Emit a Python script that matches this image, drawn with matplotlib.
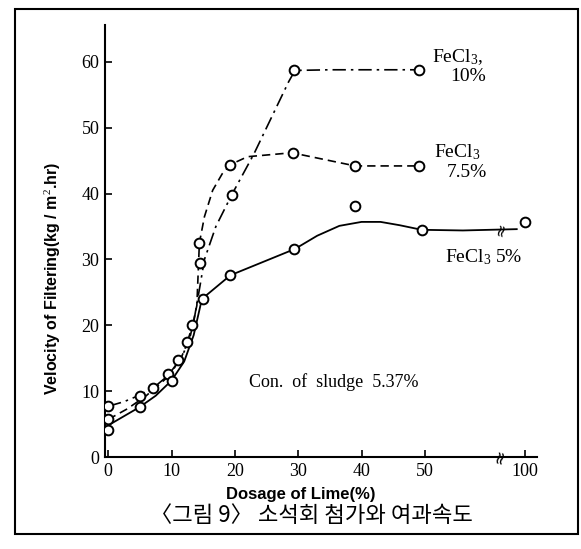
import matplotlib
matplotlib.use('Agg')
import matplotlib.pyplot as plt
from matplotlib.patches import Rectangle

serif = 'Liberation Serif'
sans = ['Liberation Sans', 'DejaVu Sans']
plt.rcParams['mathtext.fontset'] = 'custom'
plt.rcParams['mathtext.rm'] = serif
plt.rcParams['mathtext.it'] = serif + ':italic'

# x positions for the "100" dose are drawn on a broken axis
x_ticks = [0, 10, 20, 30, 40, 50, 65.8]
x_labels = ['0', '10', '20', '30', '40', '50', '100']
y_ticks = [0, 10, 20, 30, 40, 50, 60]
break_at = 62

# FeCl3 10 % (dash-dot)
fe10_curve_x = [0, 2.5, 5, 7.5, 10, 12, 13.5, 14.5, 15.2, 17, 19.5, 23, 26, 28.5, 29.5, 35, 49]
fe10_curve_y = [7.7, 8.4, 9.4, 10.8, 12.8, 16, 20.5, 26, 30, 35, 39.8, 46, 52, 57, 58.7, 58.8, 58.8]
fe10_pts_x = [0, 5, 9.5, 12.5, 14.5, 19.5, 29.3, 49]
fe10_pts_y = [7.7, 9.3, 12.6, 17.5, 29.5, 39.8, 58.7, 58.8]

# FeCl3 7.5 % (dashed)
fe75_curve_x = [0, 3, 6, 9, 11.5, 13, 14, 14.4, 15.2, 16.5, 18, 19.3, 22, 29, 34, 39, 49]
fe75_curve_y = [5.7, 7.3, 9.3, 11.8, 15, 18.5, 23, 32.5, 36.5, 40.5, 43, 44.4, 45.6, 46.2, 45.2, 44.2, 44.2]
fe75_pts_x = [0, 7, 11, 13.3, 14.3, 19.2, 29.2, 39, 49]
fe75_pts_y = [5.7, 10.5, 14.8, 20, 32.5, 44.4, 46.2, 44.2, 44.2]

# FeCl3 5 % (solid)
fe5_curve_x = [0, 2.5, 5, 7.5, 10, 12, 13.5, 14.8, 19.3, 29.5, 33, 36.5, 40, 43, 46, 49.5, 56, 64.5]
fe5_curve_y = [4.8, 6.2, 7.6, 9.3, 11.6, 14.5, 18.5, 24.0, 27.6, 31.6, 33.6, 35.1, 35.7, 35.7, 35.2, 34.5, 34.4, 34.6]
fe5_pts_x = [0, 5, 10, 15, 19.3, 29.3, 39, 49.5, 65.8]
fe5_pts_y = [4.1, 7.6, 11.6, 24.0, 27.6, 31.6, 38.1, 34.5, 35.7]

W, H = 581, 549


def px(x, y):
    return x / W, 1 - y / H


fig = plt.figure(figsize=(W / 100, H / 100), dpi=100)
ax = fig.add_axes([105 / W, 1 - 457 / H, 432 / W, 432 / H])
ax.set_xlim(-0.5, 67.7)
ax.set_ylim(0, 65.6)

mk = dict(marker='o', ms=7, mfc='white', mec='black', mew=1.4, ls='none', zorder=3)

ax.plot(fe10_curve_x, fe10_curve_y, color='black', lw=1.2, dashes=[8, 3, 1.5, 3])
ax.plot(fe10_pts_x, fe10_pts_y, **mk)
ax.plot(fe75_curve_x, fe75_curve_y, color='black', lw=1.2, dashes=[5, 3])
ax.plot(fe75_pts_x, fe75_pts_y, **mk)
ax.plot(fe5_curve_x, fe5_curve_y, color='black', lw=1.3)
ax.plot(fe5_pts_x, fe5_pts_y, **mk)

# axis break marks
ax.text(break_at, 0, '≈', rotation=75, ha='center', va='center', fontsize=13,
        family='DejaVu Sans', clip_on=False, zorder=4)
ax.text(break_at, 34.5, '≈', rotation=75, ha='center', va='center', fontsize=12,
        family='DejaVu Sans', zorder=4)

for s in ['top', 'right']:
    ax.spines[s].set_visible(False)
for s in ['left', 'bottom']:
    ax.spines[s].set_linewidth(1.5)

ax.set_xticks(x_ticks)
ax.set_xticklabels(x_labels)
ax.set_yticks(y_ticks)
ax.tick_params(direction='in', length=5, width=1.2, labelsize=13, pad=4)
for lab in ax.get_xticklabels() + ax.get_yticklabels():
    lab.set_family(serif)

# annotations
fig.text(*px(432, 62), 'FeCl$_3$,', family=serif, fontsize=14, va='baseline')
fig.text(*px(450, 81), '10%', family=serif, fontsize=14, va='baseline')
fig.text(*px(434, 157), 'FeCl$_3$', family=serif, fontsize=14, va='baseline')
fig.text(*px(447, 177), '7.5%', family=serif, fontsize=14, va='baseline')
fig.text(*px(445, 262), 'FeCl$_3$ 5%', family=serif, fontsize=14, va='baseline')
fig.text(*px(249, 387), 'Con.  of  sludge  5.37%', family=serif, fontsize=13, va='baseline')

fig.text(*px(53, 278), 'Velocity of Filtering(kg / m$^2$.hr)', rotation=90,
         family=sans, fontweight='bold', fontsize=11.5, ha='center', va='center')
fig.text(*px(301, 494), 'Dosage of Lime(%)', family=sans, fontweight='bold',
         fontsize=12, ha='center', va='center')
fig.text(*px(311, 515), '〈그림 9〉 소석회 첨가와 여과속도',
         family=['Noto Sans CJK KR', 'DejaVu Sans'], fontsize=16, ha='center', va='center')

# outer frame
fig.patches.append(Rectangle((15 / W, 1 - 534 / H), 563 / W, 525 / H, fill=False,
                             lw=1.5, ec='black', transform=fig.transFigure))

fig.savefig('out.png', dpi=100)
